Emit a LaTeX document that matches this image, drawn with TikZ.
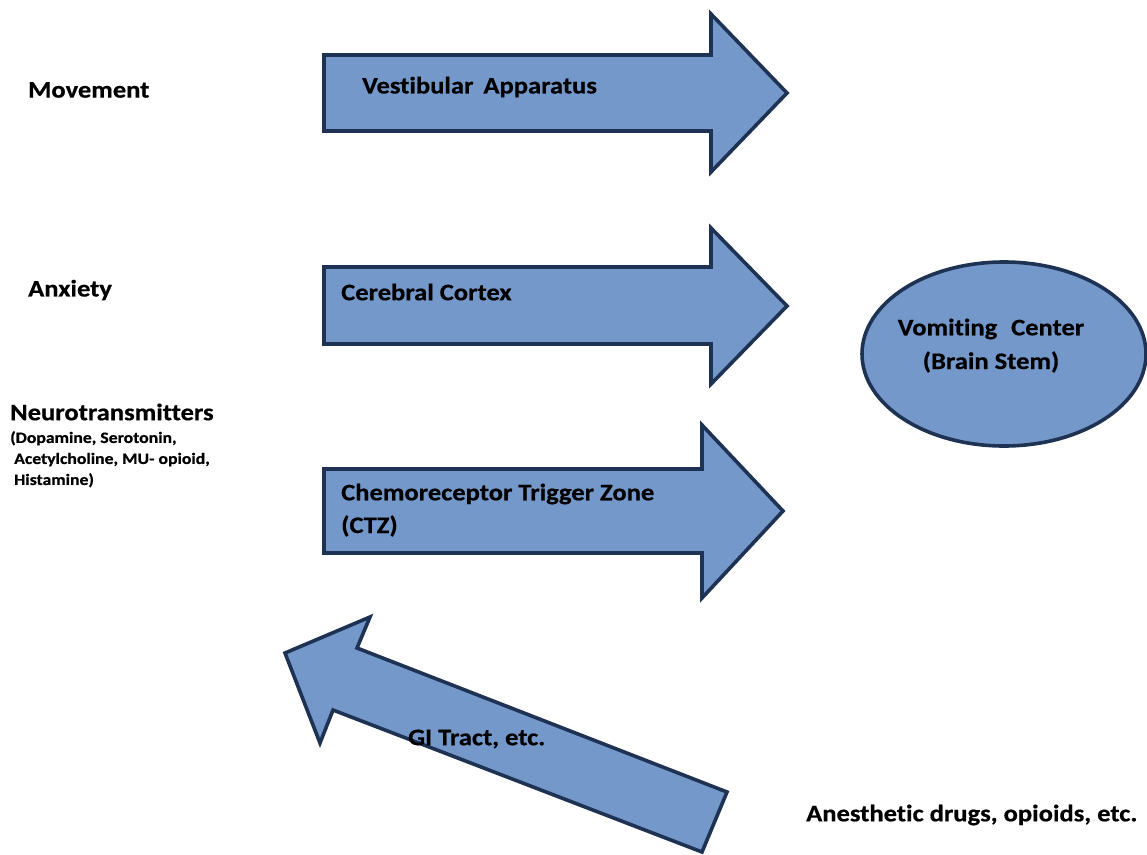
\documentclass[tikz,border=0pt]{standalone}
\usepackage{fontspec}
\usetikzlibrary{shapes.geometric}
\setmainfont[FakeStretch=1.12,RawFeature={-liga},BoldFeatures={FakeBold=0.6}]{Carlito}
\definecolor{arrowfill}{RGB}{117,152,202}
\definecolor{arrowline}{RGB}{30,50,84}
\begin{document}
\begin{tikzpicture}[x=1pt,y=-1pt,
  shapebox/.style={fill=arrowfill,draw=arrowline,line width=3.6pt,line join=miter},
  lbl/.style={font=\bfseries\fontsize{23.7}{27}\selectfont,inner sep=0pt,anchor=west,text=black},
  small/.style={font=\bfseries\fontsize{15.8}{21}\selectfont,inner sep=0pt,anchor=north west,align=left,text=black}]
\useasboundingbox[fill=white] (0,0) rectangle (1147,854);
% arrow 1
\draw[shapebox] (324,55) -- (711,55) -- (711,14) -- (787,93) -- (711,172) -- (711,131) -- (324,131) -- cycle;
% arrow 2
\draw[shapebox] (324,267) -- (711,267) -- (711,228) -- (787,306) -- (711,384) -- (711,344) -- (324,344) -- cycle;
% arrow 3
\draw[shapebox] (324,469) -- (702,469) -- (702,425) -- (783,511) -- (702,598) -- (702,553) -- (324,553) -- cycle;
% diagonal arrow
\draw[shapebox] (727,792) -- (357,648) -- (370,617) -- (285,653) -- (320,743) -- (333,710) -- (702,852) -- cycle;
% ellipse
\node[shapebox,ellipse,minimum width=284pt,minimum height=184pt,inner sep=0pt] (vc) at (1004,354) {};
\node[lbl,anchor=center] (vct) at (991,329) {Vomiting\,\, Center};
\node[lbl,anchor=center] (vcs) at (991,362) {(Brain Stem)};
% labels
\node[lbl] (mov) at (28,90) {Movement};
\node[lbl] (anx) at (28,290) {Anxiety};
\node[lbl] (neu) at (10,412) {Neurotransmitters};
\node[small] (neus) at (10,431) {(Dopamine, Serotonin,\\\ Acetylcholine, MU- opioid,\\\ Histamine)};
\node[lbl] (vest) at (362,87) {Vestibular\, Apparatus};
\node[lbl] (cc) at (341,292) {Cerebral Cortex};
\node[lbl] (ctz) at (341,494) {Chemoreceptor Trigger Zone};
\node[lbl] (ctz2) at (341,526) {(CTZ)};
\node[lbl] (gi) at (408,739) {GI Tract, etc.};
\node[lbl] (ane) at (806,815) {Anesthetic drugs, opioids, etc.};
\end{tikzpicture}
\end{document}
